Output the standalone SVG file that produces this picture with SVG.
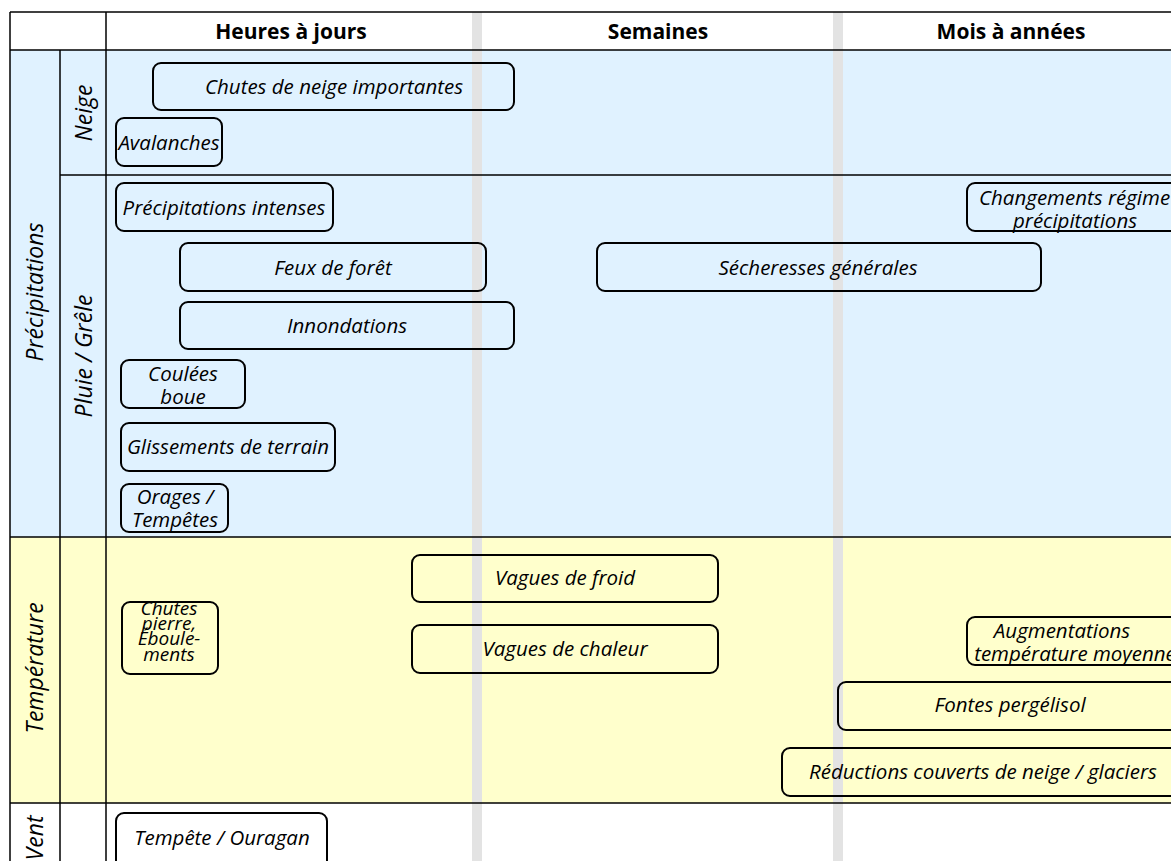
<svg xmlns="http://www.w3.org/2000/svg" width="1171" height="861" viewBox="0 0 1171 861">
<style>
.box{fill:none;stroke:#000;stroke-width:2}
.t{font-family:"Open Sans","DejaVu Sans",sans-serif;font-style:italic;font-weight:500;font-size:20.5px;fill:#000;text-anchor:middle}
.v{font-family:"Open Sans","DejaVu Sans",sans-serif;font-style:italic;font-weight:500;font-size:23px;fill:#000;text-anchor:middle}
.h{font-family:"Open Sans","DejaVu Sans",sans-serif;font-weight:bold;font-size:21px;fill:#000;text-anchor:middle}
.grid{stroke:#000;stroke-width:1.5;fill:none}
.band{fill:#e3e3e3}
</style>
<rect x="0" y="0" width="1171" height="861" fill="#fff"/>
<g id="backgrounds">
<rect x="10" y="50" width="1161" height="487" fill="#e0f2ff"/>
<rect x="10" y="537" width="1161" height="266" fill="#ffffcc"/>
<rect x="472" y="12" width="10" height="849" class="band"/>
<rect x="833" y="12" width="10" height="849" class="band"/>
</g>
<g id="grid">
<line x1="10" y1="12" x2="1171" y2="12" class="grid"/>
<line x1="10" y1="50" x2="1171" y2="50" class="grid"/>
<line x1="60" y1="175" x2="1171" y2="175" class="grid"/>
<line x1="10" y1="537" x2="1171" y2="537" class="grid"/>
<line x1="10" y1="803" x2="1171" y2="803" class="grid"/>
<line x1="10" y1="12" x2="10" y2="861" class="grid"/>
<line x1="60" y1="50" x2="60" y2="861" class="grid"/>
<line x1="106" y1="12" x2="106" y2="861" class="grid"/>
</g>
<g id="headers">
<text x="291" y="39" class="h">Heures à jours</text>
<text x="658" y="39" class="h">Semaines</text>
<text x="1011" y="39" class="h">Mois à années</text>
</g>
<g id="row-labels">
<text class="v" transform="translate(43,292) rotate(-90)">Précipitations</text>
<text class="v" transform="translate(92,113) rotate(-90)">Neige</text>
<text class="v" transform="translate(92,356) rotate(-90)">Pluie / Grêle</text>
<text class="v" transform="translate(43,668) rotate(-90)">Température</text>
<text class="v" transform="translate(43,838) rotate(-90)">Vent</text>
</g>
<g id="connectors"></g>
<g id="n1"><rect x="153" y="63" width="361" height="47" rx="8" class="box"/><text x="334" y="94" class="t">Chutes de neige importantes</text></g>
<g id="n2"><rect x="116" y="118" width="106" height="48" rx="8" class="box"/><text x="169" y="150" class="t">Avalanches</text></g>
<g id="n3"><rect x="116" y="183" width="217" height="48" rx="8" class="box"/><text x="224" y="215" class="t">Précipitations intenses</text></g>
<g id="n4"><rect x="180" y="243" width="306" height="48" rx="8" class="box"/><text x="333" y="275" class="t">Feux de forêt</text></g>
<g id="n5"><rect x="180" y="302" width="334" height="47" rx="8" class="box"/><text x="347" y="333" class="t">Innondations</text></g>
<g id="n6"><rect x="597" y="243" width="444" height="48" rx="8" class="box"/><text x="818" y="275" class="t">Sécheresses générales</text></g>
<g id="n7"><rect x="967" y="183" width="230" height="48" rx="8" class="box"/><text class="t"><tspan x="979" y="205" style="text-anchor:start">Changements régime</tspan><tspan x="1075" y="228">précipitations</tspan></text></g>
<g id="n8"><rect x="121" y="360" width="124" height="48" rx="8" class="box"/><text class="t"><tspan x="183" y="381">Coulées</tspan><tspan x="183" y="404">boue</tspan></text></g>
<g id="n9"><rect x="121" y="423" width="214" height="48" rx="8" class="box"/><text x="228" y="454" class="t">Glissements de terrain</text></g>
<g id="n10"><rect x="121" y="484" width="107" height="48" rx="8" class="box"/><text class="t"><tspan x="175" y="504">Orages /</tspan><tspan x="175" y="527">Tempêtes</tspan></text></g>
<g id="n11"><rect x="412" y="555" width="306" height="47" rx="8" class="box"/><text x="565" y="585" class="t">Vagues de froid</text></g>
<g id="n12"><rect x="412" y="625" width="306" height="48" rx="8" class="box"/><text x="565" y="656" class="t">Vagues de chaleur</text></g>
<g id="n13"><rect x="122" y="602" width="96" height="72" rx="8" class="box"/><text class="t" style="font-size:19px"><tspan x="169" y="615">Chutes</tspan><tspan x="169" y="630">pierre,</tspan><tspan x="169" y="645">Éboule-</tspan><tspan x="169" y="661">ments</tspan></text></g>
<g id="n14"><rect x="967" y="617" width="230" height="48" rx="8" class="box"/><text class="t"><tspan x="1062" y="638">Augmentations</tspan><tspan x="1075" y="661">température moyenne</tspan></text></g>
<g id="n15"><rect x="838" y="682" width="360" height="48" rx="8" class="box"/><text x="1010" y="712" class="t">Fontes pergélisol</text></g>
<g id="n16"><rect x="782" y="748" width="420" height="48" rx="8" class="box"/><text x="983" y="779" class="t">Réductions couverts de neige / glaciers</text></g>
<g id="n17"><rect x="116" y="813" width="211" height="60" rx="8" class="box"/><text x="222" y="845" class="t">Tempête / Ouragan</text></g>
</svg>
